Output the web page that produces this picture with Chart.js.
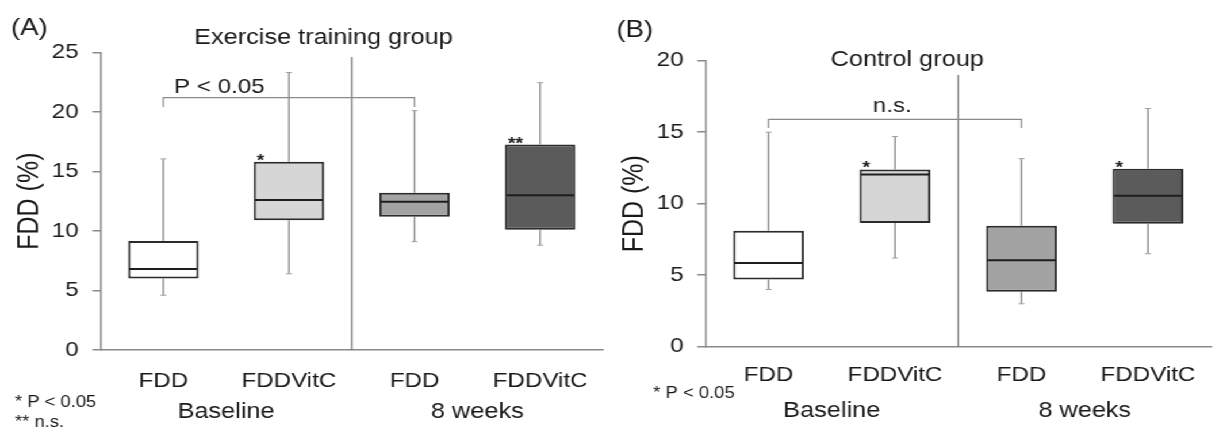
<!DOCTYPE html>
<html><head><meta charset="utf-8">
<script src="https://cdn.jsdelivr.net/npm/chart.js@4.4.1/dist/chart.umd.min.js"></script>
<style>
html,body{margin:0;padding:0;background:#fff;overflow:hidden;width:1214px;height:430px}
#wrap{position:relative;width:1056px;height:430px;transform:scaleX(1.15);transform-origin:0 0}
canvas{position:absolute;top:0}
</style></head>
<body><div id="wrap"><canvas id="ca"></canvas><canvas id="cb"></canvas></div>
<script>
// ---------- data ----------
const categories = ['FDD', 'FDDVitC', 'FDD', 'FDDVitC'];
const groupLabels = ['Baseline', '8 weeks'];

// (A) Exercise training group
const exMin    = [4.6, 6.4, 9.1, 8.8];
const exQ1     = [6.0, 10.9, 11.2, 10.1];
const exMedian = [6.8, 12.6, 12.45, 13.0];
const exQ3     = [9.15, 15.8, 13.2, 17.25];
const exMax    = [16.05, 23.3, 20.1, 22.45];
const exStars  = ['', '*', '', '**'];
const exTicks  = [0, 5, 10, 15, 20, 25];

// (B) Control group
const ctMin    = [4.0, 6.2, 3.0, 6.5];
const ctQ1     = [4.7, 8.65, 3.85, 8.6];
const ctMedian = [5.85, 12.05, 6.05, 10.55];
const ctQ3     = [8.1, 12.4, 8.45, 12.45];
const ctMax    = [15.0, 14.7, 13.15, 16.65];
const ctStars  = ['', '*', '', '*'];
const ctTicks  = [0, 5, 10, 15, 20];

// ---------- styling ----------
const S = 1.15; // horizontal stretch of the original figure
const FONT = "'Liberation Sans', Arial, Helvetica, sans-serif";
const TXT = '#1a1a1a';
const AX = '#8a8a8a';
const boxColors = ['#ffffff', '#d6d6d6', '#a3a3a3', '#5b5b5b'];

const panels = [
  { id: 'ca', letter: '(A)', title: 'Exercise training group',
    min: exMin, q1: exQ1, med: exMedian, q3: exQ3, max: exMax, stars: exStars, ticks: exTicks, yMax: 25,
    canvasLeft: 0, canvasW: 650, axisLeft: 100.5, axisRight: 603, top: 52.3, bottom: 350,
    xPad: 19, yTitlePad: 11.3, dividerTop: 24.6,
    bracket: { from: 0, to: 2, level: 21.2, drop: 20.4, text: 'P < 0.05', align: 'left', tx: 174, ty: 93 },
    letterPos: [11, 35], titlePos: [323.5, 44], groupY: 418,
    notes: [['* P < 0.05', 15, 406.5], ['** n.s.', 15, 427]] },
  { id: 'cb', letter: '(B)', title: 'Control group',
    min: ctMin, q1: ctQ1, med: ctMedian, q3: ctQ3, max: ctMax, stars: ctStars, ticks: ctTicks, yMax: 20,
    canvasLeft: 600, canvasW: 614, axisLeft: 705, axisRight: 1213, top: 60.7, bottom: 346.7,
    xPad: 16.4, yTitlePad: 14.7, dividerTop: 19.0,
    bracket: { from: 0, to: 2, level: 15.9, drop: 15.3, text: 'n.s.', align: 'center', tx: 892, ty: 111.5 },
    letterPos: [616, 37], titlePos: [907, 66], groupY: 417,
    notes: [['* P < 0.05', 653, 397.5]] }
];

function extras(p) {
  const rx = v => (v - p.canvasLeft) / S; // reference x -> canvas x
  return {
    id: 'extras_' + p.id,
    beforeDatasetsDraw(chart) {
      const ctx = chart.ctx, xs = chart.scales.x, ys = chart.scales.y, ca = chart.chartArea;
      ctx.save();
      // divider between baseline and 8 weeks
      const dx = (xs.getPixelForValue(1) + xs.getPixelForValue(2)) / 2;
      ctx.strokeStyle = '#6a6a6a'; ctx.lineWidth = 1.2;
      ctx.beginPath(); ctx.moveTo(dx, ys.getPixelForValue(p.dividerTop)); ctx.lineTo(dx, ca.bottom); ctx.stroke();
      // whiskers
      categories.forEach((c, i) => {
        const x = xs.getPixelForValue(i);
        ctx.strokeStyle = '#7a7a7a'; ctx.lineWidth = 1.2;
        ctx.beginPath();
        ctx.moveTo(x, ys.getPixelForValue(p.min[i])); ctx.lineTo(x, ys.getPixelForValue(p.q1[i]));
        ctx.moveTo(x, ys.getPixelForValue(p.q3[i])); ctx.lineTo(x, ys.getPixelForValue(p.max[i]));
        ctx.stroke();
        ctx.strokeStyle = '#a0a0a0'; ctx.lineWidth = 1;
        const cw = 3 / S;
        ctx.beginPath();
        [p.min[i], p.max[i]].forEach(v => { const y = ys.getPixelForValue(v); ctx.moveTo(x - cw, y); ctx.lineTo(x + cw, y); });
        ctx.stroke();
      });
      ctx.restore();
    },
    afterDatasetsDraw(chart) {
      const ctx = chart.ctx, xs = chart.scales.x, ys = chart.scales.y;
      const bars = chart.getDatasetMeta(0).data;
      ctx.save();
      // medians
      ctx.strokeStyle = '#1e1e1e'; ctx.lineWidth = 2;
      bars.forEach((b, i) => {
        const y = ys.getPixelForValue(p.med[i]);
        ctx.beginPath(); ctx.moveTo(b.x - b.width / 2 + 1, y); ctx.lineTo(b.x + b.width / 2 - 1, y); ctx.stroke();
      });
      // stars
      ctx.fillStyle = '#222'; ctx.font = 'bold 17px ' + FONT; ctx.textAlign = 'left'; ctx.textBaseline = 'alphabetic';
      bars.forEach((b, i) => {
        if (p.stars[i]) ctx.fillText(p.stars[i], b.x - b.width / 2 + 3 / S, ys.getPixelForValue(p.q3[i]) + 4);
      });
      // bracket
      const br = p.bracket;
      const x0 = xs.getPixelForValue(br.from), x1 = xs.getPixelForValue(br.to);
      const yl = ys.getPixelForValue(br.level), yd = ys.getPixelForValue(br.drop);
      ctx.strokeStyle = '#8a8a8a'; ctx.lineWidth = 1.2;
      ctx.beginPath(); ctx.moveTo(x0, yd); ctx.lineTo(x0, yl); ctx.lineTo(x1, yl); ctx.lineTo(x1, yd); ctx.stroke();
      ctx.fillStyle = TXT; ctx.font = '21px ' + FONT; ctx.textAlign = br.align;
      ctx.fillText(br.text, rx(br.tx), br.ty);
      ctx.restore();
    },
    afterDraw(chart) {
      const ctx = chart.ctx, xs = chart.scales.x;
      ctx.save();
      ctx.fillStyle = TXT; ctx.textBaseline = 'alphabetic';
      ctx.font = '24px ' + FONT; ctx.textAlign = 'left';
      ctx.fillText(p.letter, rx(p.letterPos[0]), p.letterPos[1]);
      ctx.font = '22px ' + FONT; ctx.textAlign = 'center';
      ctx.fillText(p.title, rx(p.titlePos[0]), p.titlePos[1]);
      groupLabels.forEach((g, k) => {
        const gx = (xs.getPixelForValue(2 * k) + xs.getPixelForValue(2 * k + 1)) / 2;
        ctx.fillText(g, gx, p.groupY);
      });
      ctx.font = '16px ' + FONT; ctx.textAlign = 'left';
      p.notes.forEach(n => ctx.fillText(n[0], rx(n[1]), n[2]));
      ctx.restore();
    }
  };
}

function makePanel(p) {
  const cv = document.getElementById(p.id);
  const w = Math.round(p.canvasW / S);
  cv.width = w; cv.height = 430;
  cv.style.left = (p.canvasLeft / S) + 'px';
  cv.style.width = w + 'px'; cv.style.height = '430px';
  const chartLeft = (p.axisLeft - p.canvasLeft) / S;
  const chartRight = (p.axisRight - p.canvasLeft) / S;
  return new Chart(cv, {
    type: 'bar',
    data: {
      labels: categories,
      datasets: [{
        data: p.q1.map((v, i) => [v, p.q3[i]]),
        backgroundColor: boxColors,
        borderColor: '#2b2b2b',
        borderWidth: 2,
        borderSkipped: false,
        barPercentage: 0.56,
        categoryPercentage: 1
      }]
    },
    options: {
      responsive: false, animation: false, devicePixelRatio: 1,
      layout: { padding: { top: p.top, left: 0, right: w - chartRight, bottom: 0 } },
      plugins: { legend: { display: false }, tooltip: { enabled: false }, title: { display: false } },
      scales: {
        x: {
          type: 'category', offset: true,
          grid: { display: false, drawTicks: false },
          border: { display: true, color: AX, width: 1.5 },
          ticks: { color: TXT, font: { family: FONT, size: 21 }, padding: p.xPad, maxRotation: 0, autoSkip: false },
          afterFit: s => { s.height = 430 - p.bottom; }
        },
        y: {
          min: 0, max: p.yMax,
          afterBuildTicks: s => { s.ticks = p.ticks.map(v => ({ value: v })); },
          grid: { display: true, drawOnChartArea: false, drawTicks: true, tickLength: 7, color: AX, lineWidth: 1.5 },
          border: { display: true, color: AX, width: 1.5 },
          ticks: { color: TXT, font: { family: FONT, size: 21 }, padding: 12 },
          title: { display: true, text: 'FDD (%)', color: TXT, font: { family: FONT, size: 25 }, padding: { top: p.yTitlePad, bottom: 0 } },
          afterFit: s => { s.width = chartLeft; }
        }
      }
    },
    plugins: [extras(p)]
  });
}

panels.forEach(makePanel);
</script>
</body></html>
